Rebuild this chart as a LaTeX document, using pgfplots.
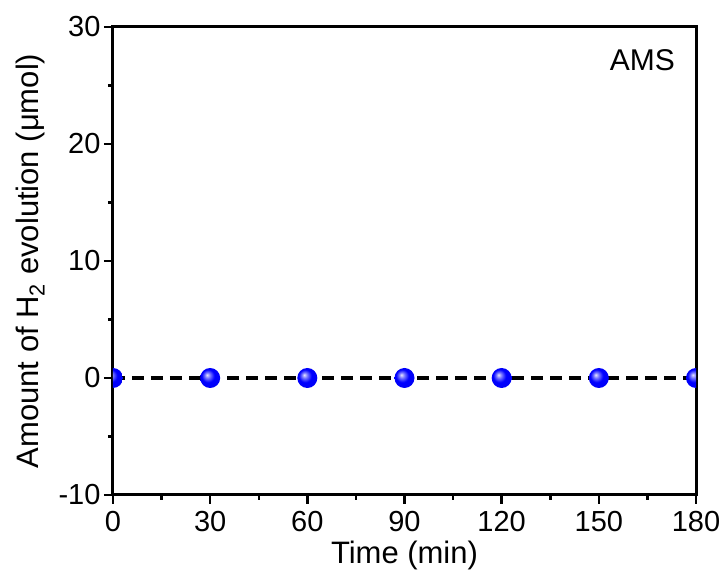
\documentclass[border=0pt]{standalone}
\usepackage{fontspec}
\setmainfont{Liberation Sans}
\usepackage{pgfplots}
\pgfplotsset{compat=1.18}
\pgfdeclareradialshading{myball}{\pgfpoint{-8bp}{8bp}}{color(0bp)=(white!90!blue); color(7bp)=(blue!55!white); color(16bp)=(blue); color(35bp)=(blue!95!black); color(50bp)=(blue!85!black)}
\pgfdeclareplotmark{myball}{\pgfpathcircle{\pgfpointorigin}{\pgfplotmarksize}\pgfshadepath{myball}{0}\pgfusepath{discard}}
\begin{document}
\begin{tikzpicture}
\useasboundingbox (-113pt,-82pt) rectangle (615pt,495pt);
\begin{axis}[
  at={(0,0)}, anchor=south west,
  scale only axis, width=583pt, height=468pt,
  xmin=0, xmax=180, ymin=-10, ymax=30,
  xtick={0,30,...,180}, ytick={-10,0,10,20,30},
  minor xtick={15,45,...,165}, minor ytick={-5,5,15,25},
  tick pos=left, tick align=outside,
  major tick length=9pt, minor tick length=5pt,
  every tick/.append style={line width=2.5pt, black},
  major tick style={line width=2.5pt, black},
  minor tick style={line width=2.5pt, black},
  axis line style={line width=3pt},
  /pgf/number format/assume math mode=true,
  tick label style={font=\fontsize{29}{34}\selectfont},
  xticklabel style={yshift=-4pt},
  label style={font=\fontsize{31}{36}\selectfont},
  xlabel={Time (min)},
  ylabel={Amount of H\textsubscript{2} evolution (μmol)},
  xlabel style={yshift=-2pt},
  ylabel style={yshift=7pt},
  clip marker paths=true,
]
\addplot[black, line width=3.5pt, dash pattern=on 12pt off 7pt,
  mark=myball, mark size=10pt, mark options={solid, draw=none}]
  coordinates {(0,0) (30,0) (60,0) (90,0) (120,0) (150,0) (180,0)};
\node[anchor=north east, font=\fontsize{30}{35}\selectfont] at (rel axis cs:0.97,0.96) {AMS};
\end{axis}
\end{tikzpicture}
\end{document}
